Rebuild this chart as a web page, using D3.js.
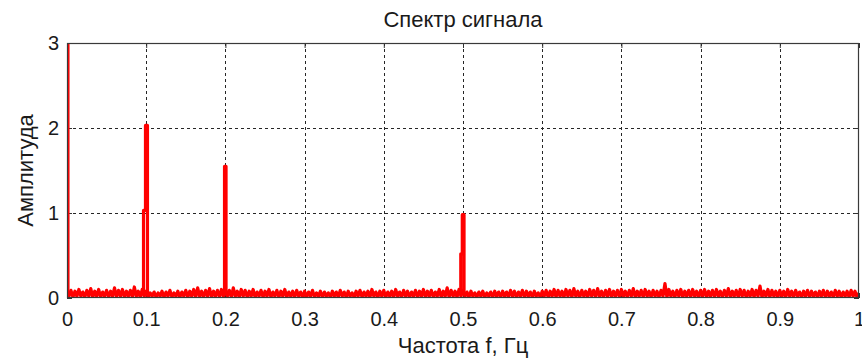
<!DOCTYPE html>
<html>
<head>
<meta charset="utf-8">
<script src="https://cdn.jsdelivr.net/npm/d3@7"></script>
<style>
  html, body { margin: 0; padding: 0; background: #fff; }
  svg { display: block; font-family: "Liberation Sans", Arial, sans-serif; }
</style>
</head>
<body>
<div id="chart"></div>
<script>
// spectrum amplitudes, one per 0.0025 Hz step
const freqStep = 0.0025
const noiseAmp = [
  .06,.02,.09,.01,.08,.02,.10,.02,.07,.01,.09,.02,.11,.01,.08,.02,.10,.01,.07,.02,
  .09,.01,.08,.02,.12,.01,.09,.02,.10,.01,.08,.02,.09,.01,.13,.02,.08,.01,.10,.02,
  .08,.01,.06,.02,.07,.01,.06,.02,.08,.01,.07,.02,.09,.01,.06,.02,.08,.01,.07,.02,
  .09,.01,.08,.02,.10,.01,.12,.02,.08,.01,.09,.02,.11,.01,.08,.02,.09,.01,.10,.02,
  .10,.02,.09,.01,.12,.02,.08,.01,.10,.02,.09,.01,.08,.02,.10,.01,.07,.02,.09,.01,
  .08,.02,.10,.01,.07,.02,.09,.01,.08,.02,.10,.01,.07,.02,.08,.01,.09,.02,.07,.01,
  .08,.01,.07,.02,.09,.01,.06,.02,.08,.01,.07,.02,.06,.01,.08,.02,.07,.01,.09,.02,
  .07,.01,.08,.02,.06,.01,.08,.02,.09,.01,.07,.02,.08,.01,.10,.02,.07,.01,.08,.02,
  .09,.01,.07,.02,.08,.01,.10,.02,.07,.01,.09,.02,.08,.01,.07,.02,.09,.01,.08,.02,
  .10,.01,.08,.02,.09,.01,.07,.02,.10,.01,.08,.02,.12,.01,.09,.02,.08,.01,.10,.02,
  .09,.02,.07,.01,.08,.02,.06,.01,.07,.02,.08,.01,.06,.02,.07,.01,.08,.02,.07,.01,
  .08,.02,.07,.01,.09,.02,.08,.01,.07,.02,.09,.01,.08,.02,.07,.01,.08,.02,.06,.01,
  .08,.02,.09,.01,.08,.02,.10,.01,.09,.02,.08,.01,.10,.02,.09,.01,.11,.02,.08,.01,
  .09,.02,.08,.01,.10,.02,.09,.01,.11,.02,.08,.01,.09,.02,.10,.01,.08,.02,.09,.01,
  .10,.02,.08,.01,.09,.02,.11,.01,.08,.02,.09,.01,.10,.02,.08,.01,.09,.02,.08,.01,
  .09,.02,.17,.01,.10,.02,.08,.01,.09,.02,.10,.01,.08,.02,.09,.01,.10,.02,.08,.01,
  .09,.02,.10,.01,.08,.02,.09,.01,.10,.02,.08,.01,.09,.02,.11,.01,.08,.02,.09,.01,
  .10,.02,.09,.01,.08,.02,.10,.01,.09,.02,.14,.01,.08,.02,.10,.01,.09,.02,.08,.01,
  .09,.02,.08,.01,.10,.02,.08,.01,.09,.02,.07,.01,.08,.02,.09,.01,.08,.02,.07,.01,
  .08,.02,.09,.01,.08,.02,.07,.01,.09,.02,.08,.01,.07,.02,.08,.01,.09,.02,.08,.01,
  .06
]

// spectral lines: [frequency, amplitude]
const peakDC = [[0.0012, 3.1], [0.0012, 0.05]]
const peak01 = [[0.0966, 0.05], [0.0966, 1.03], [0.0991, 1.03], [0.0991, 2.03], [0.1016, 2.03], [0.1016, 0.03]]
const peak02 = [[0.1989, 0.05], [0.1989, 1.55], [0.2008, 1.55], [0.2008, 0.05]]
const peak05 = [[0.4972, 0.05], [0.4972, 0.52], [0.4991, 0.52], [0.4991, 0.98], [0.5013, 0.98], [0.5013, 0.04]]

const xTicks = [0, 0.1, 0.2, 0.3, 0.4, 0.5, 0.6, 0.7, 0.8, 0.9, 1]
const yTicks = [0, 1, 2, 3]

const title = "Спектр сигнала"
const xLabel = "Частота f, Гц"
const yLabel = "Амплитуда"

const width = 862, height = 362
const marginTop = 43, marginRight = 3, marginBottom = 64, marginLeft = 67

const x = d3.scaleLinear([0, 1], [marginLeft, width - marginRight])
const y = d3.scaleLinear([0, 3], [height - marginBottom, marginTop])

const svg = d3.select("#chart").append("svg")
  .attr("width", width)
  .attr("height", height)
  .attr("viewBox", [0, 0, width, height])

svg.append("defs").append("clipPath")
  .attr("id", "plot")
  .append("rect")
  .attr("x", marginLeft).attr("y", marginTop)
  .attr("width", width - marginLeft - marginRight)
  .attr("height", height - marginTop - marginBottom)

// grid
svg.append("g")
  .attr("stroke", "#262626")
  .attr("stroke-width", 1)
  .attr("stroke-dasharray", "3,3")
  .call(g => g.selectAll(".vx")
    .data(xTicks.slice(1, -1))
    .join("line")
    .attr("x1", d => Math.round(x(d)) + 0.5).attr("x2", d => Math.round(x(d)) + 0.5)
    .attr("y1", y(0)).attr("y2", y(3)))
  .call(g => g.selectAll(".hy")
    .data(yTicks.slice(1, -1))
    .join("line")
    .attr("class", "hy")
    .attr("y1", d => Math.round(y(d)) + 0.5).attr("y2", d => Math.round(y(d)) + 0.5)
    .attr("x1", x(0)).attr("x2", x(1)))

// axes (ticks point inward, MATLAB style)
const tickStyle = g => {
  g.select(".domain").remove()
  g.selectAll(".tick line").attr("stroke", "#333")
  g.selectAll(".tick text").attr("fill", "#1a1a1a").attr("font-size", 20)
}
svg.append("g")
  .attr("transform", `translate(0,${y(0)})`)
  .call(d3.axisBottom(x).tickValues(xTicks).tickFormat(d3.format("")).tickSize(-5).tickPadding(14))
  .call(tickStyle)
svg.append("g")
  .attr("transform", `translate(0,${y(3)})`)
  .call(d3.axisTop(x).tickValues(xTicks).tickFormat("").tickSize(-5))
  .call(tickStyle)
svg.append("g")
  .attr("transform", `translate(${x(0)},0)`)
  .call(d3.axisLeft(y).tickValues(yTicks).tickFormat(d3.format("d")).tickSize(-5).tickPadding(8))
  .call(tickStyle)
svg.append("g")
  .attr("transform", `translate(${x(1)},0)`)
  .call(d3.axisRight(y).tickValues(yTicks).tickFormat("").tickSize(-5))
  .call(tickStyle)

// spectrum
const line = d3.line()
  .x(d => x(d[0]))
  .y(d => y(d[1]))

const noise = noiseAmp.map((a, i) => [i * freqStep, a])

const plot = svg.append("g")
  .attr("clip-path", "url(#plot)")
  .attr("fill", "none")
  .attr("stroke", "#ff0000")
  .attr("stroke-width", 3.2)
  .attr("stroke-linejoin", "round")

plot.append("path").attr("d", line(noise))
for (const p of [peakDC, peak01, peak02, peak05]) plot.append("path").attr("d", line(p))

// frame
svg.append("rect")
  .attr("x", x(0) + 0.5).attr("y", y(3) + 0.5)
  .attr("width", x(1) - x(0) - 1).attr("height", y(0) - y(3) - 1)
  .attr("fill", "none")
  .attr("stroke", "#3a3a3a")
  .attr("stroke-width", 1.2)

// titles
svg.append("text")
  .attr("x", (x(0) + x(1)) / 2).attr("y", 27)
  .attr("text-anchor", "middle")
  .attr("font-size", 22)
  .attr("fill", "#1a1a1a")
  .text(title)

svg.append("text")
  .attr("x", (x(0) + x(1)) / 2).attr("y", 353)
  .attr("text-anchor", "middle")
  .attr("font-size", 22)
  .attr("fill", "#1a1a1a")
  .text(xLabel)

svg.append("text")
  .attr("transform", `translate(33,${(y(0) + y(3)) / 2}) rotate(-90)`)
  .attr("text-anchor", "middle")
  .attr("font-size", 22)
  .attr("fill", "#1a1a1a")
  .text(yLabel)
</script>
</body>
</html>
